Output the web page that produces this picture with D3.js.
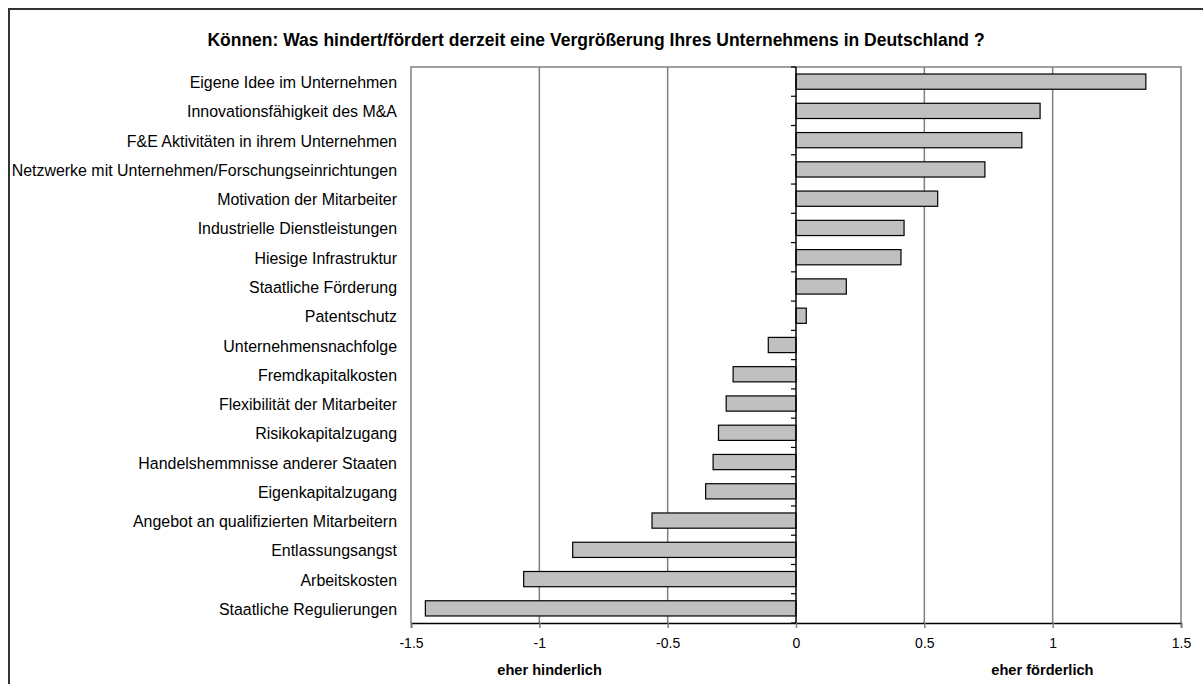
<!DOCTYPE html>
<html><head><meta charset="utf-8">
<script src="https://cdn.jsdelivr.net/npm/d3@7"></script>
<style>html,body{margin:0;background:#fff;overflow:hidden;}svg{display:block;}</style>
</head><body>
<svg id="chart" width="1203" height="684"></svg>
<script>
const titleText = "Können: Was hindert/fördert derzeit eine Vergrößerung Ihres Unternehmens in Deutschland ?";
const categories = [
  "Eigene Idee im Unternehmen",
  "Innovationsfähigkeit des M&A",
  "F&E Aktivitäten in ihrem Unternehmen",
  "Netzwerke mit Unternehmen/Forschungseinrichtungen",
  "Motivation der Mitarbeiter",
  "Industrielle Dienstleistungen",
  "Hiesige Infrastruktur",
  "Staatliche Förderung",
  "Patentschutz",
  "Unternehmensnachfolge",
  "Fremdkapitalkosten ",
  "Flexibilität der Mitarbeiter",
  "Risikokapitalzugang",
  "Handelshemmnisse anderer Staaten",
  "Eigenkapitalzugang",
  "Angebot an qualifizierten Mitarbeitern",
  "Entlassungsangst",
  "Arbeitskosten",
  "Staatliche Regulierungen"
];
const values = [1.363, 0.951, 0.880, 0.736, 0.552, 0.421, 0.409, 0.196, 0.040, -0.108, -0.245, -0.272, -0.302, -0.323, -0.352, -0.561, -0.870, -1.061, -1.444];
const xTicks = [-1.5, -1, -0.5, 0, 0.5, 1, 1.5];
const xTickLabels = ["-1.5", "-1", "-0.5", "0", "0.5", "1", "1.5"];
const axisTitles = ["eher hinderlich", "eher förderlich"];
const axisTitleValues = [-0.96, 0.96];

const svg = d3.select("#chart");
const font = "'Liberation Sans', Arial, sans-serif";
const L = 411, R = 1181, T = 67, B = 623;

const x = d3.scaleLinear().domain([-1.5, 1.5]).range([L, R]);
const y = d3.scaleBand().domain(categories).range([T, B]).paddingInner(0.48).paddingOuter(0.24);

// outer frame: only top and left edges fall inside the picture
svg.append("line").attr("x1", 8).attr("x2", 1203).attr("y1", 9).attr("y2", 9)
  .attr("stroke", "#333").attr("stroke-width", 2);
svg.append("line").attr("x1", 9).attr("x2", 9).attr("y1", 8).attr("y2", 684)
  .attr("stroke", "#333").attr("stroke-width", 2);

// title
svg.append("text").attr("x", 596).attr("y", 46).attr("text-anchor", "middle")
  .attr("font-family", font).attr("font-size", 17.5).attr("font-weight", "bold").attr("fill", "#000")
  .text(titleText);

// plot border (top, left, right)
svg.append("path").attr("d", `M${L},${B}V${T}H${R}V${B}`).attr("fill", "none")
  .attr("stroke", "#808080").attr("stroke-width", 1.5);

// gridlines
svg.append("g").selectAll("line").data(xTicks.filter(t => t !== 0 && Math.abs(t) !== 1.5)).join("line")
  .attr("x1", d => x(d)).attr("x2", d => x(d)).attr("y1", T).attr("y2", B)
  .attr("stroke", "#808080").attr("stroke-width", 1.5);

// bars
svg.append("g").selectAll("rect").data(categories).join("rect")
  .attr("x", (d, i) => x(Math.min(0, values[i])))
  .attr("width", (d, i) => Math.abs(x(values[i]) - x(0)))
  .attr("y", d => y(d)).attr("height", y.bandwidth())
  .attr("fill", "#c0c0c0").attr("stroke", "#000").attr("stroke-width", 1.2);

// x axis
const xAxis = d3.axisBottom(x).tickValues(xTicks).tickFormat((d, i) => xTickLabels[i]).tickSize(5).tickPadding(10);
const gx = svg.append("g").attr("transform", `translate(0,${B})`).call(xAxis);
gx.select(".domain").attr("stroke", "#000").attr("stroke-width", 1.5);
gx.selectAll(".tick line").attr("stroke", "#808080").attr("stroke-width", 1.5);
gx.selectAll(".tick text").attr("font-family", font).attr("font-size", 14).attr("fill", "#000");

// category axis at zero
const step = y.step();
const boundaries = d3.range(categories.length + 1).map(i => y.range()[0] + i * step);
svg.append("g").selectAll("line").data(boundaries).join("line")
  .attr("x1", x(0) - 5).attr("x2", x(0)).attr("y1", d => d).attr("y2", d => d)
  .attr("stroke", "#000").attr("stroke-width", 1.2);
svg.append("line").attr("x1", x(0)).attr("x2", x(0)).attr("y1", T).attr("y2", B)
  .attr("stroke", "#000").attr("stroke-width", 1.5);

// category labels
svg.append("g").selectAll("text").data(categories).join("text")
  .attr("x", L - 14).attr("y", d => y(d) + y.bandwidth() / 2 + 6.5)
  .attr("text-anchor", "end").attr("font-family", font).attr("font-size", 15.95).attr("fill", "#000")
  .text(d => d);

// axis titles
svg.append("g").selectAll("text").data(axisTitles).join("text")
  .attr("x", (d, i) => x(axisTitleValues[i])).attr("y", 675)
  .attr("text-anchor", "middle").attr("font-family", font).attr("font-size", 14.6).attr("font-weight", "bold").attr("fill", "#000")
  .text(d => d);
</script>
</body></html>
